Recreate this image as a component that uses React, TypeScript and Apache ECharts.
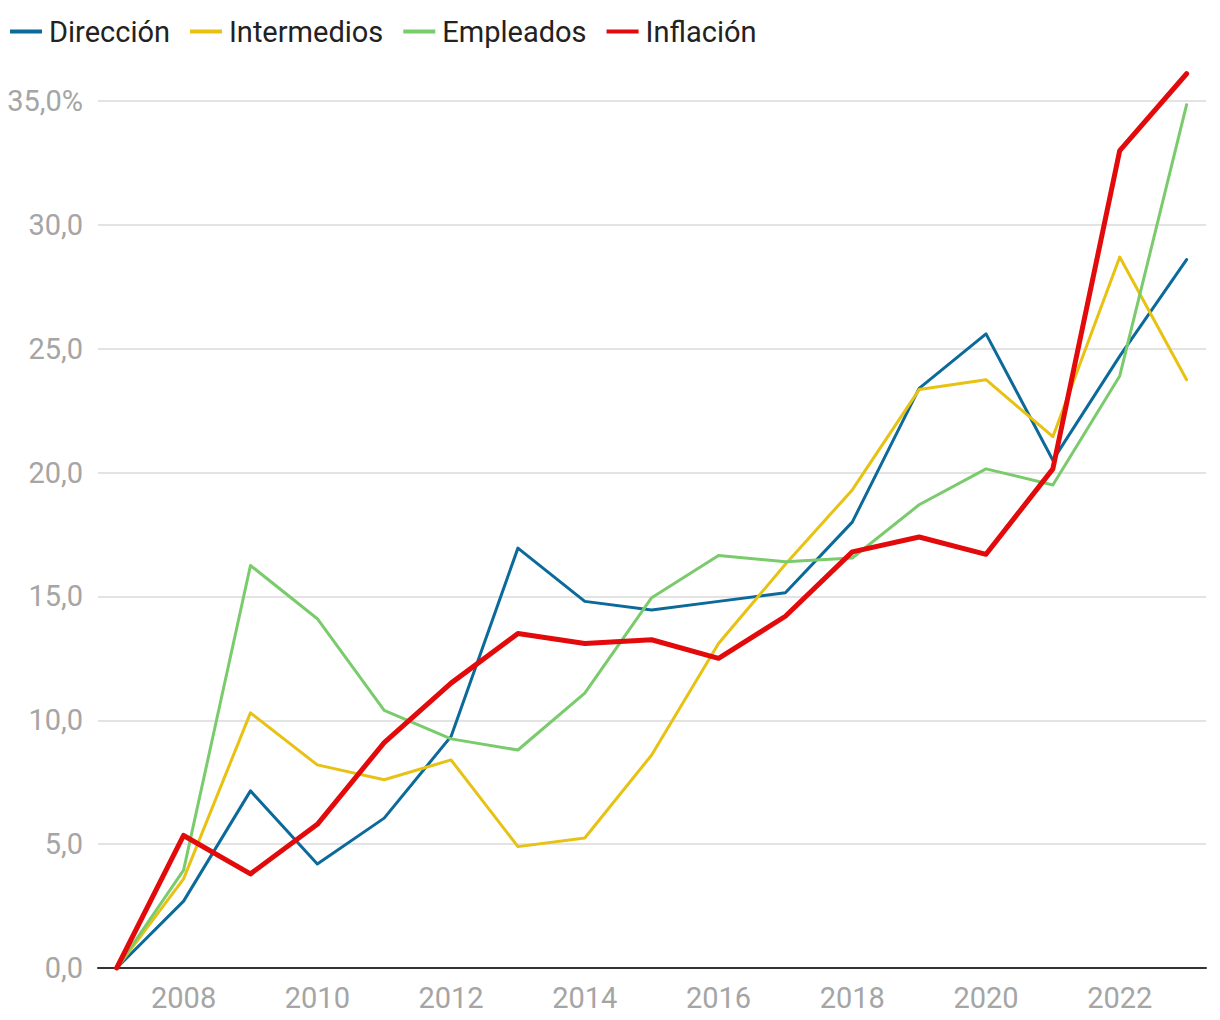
import React, { useEffect, useRef } from "react";
import * as echarts from "echarts";

const years = [2007, 2008, 2009, 2010, 2011, 2012, 2013, 2014, 2015, 2016, 2017, 2018, 2019, 2020, 2021, 2022, 2023];
const direccion = [0, 2.7, 7.15, 4.2, 6.05, 9.35, 16.95, 14.8, 14.45, 14.8, 15.15, 18.0, 23.4, 25.6, 20.5, 24.7, 28.6];
const intermedios = [0, 3.6, 10.3, 8.2, 7.6, 8.4, 4.9, 5.25, 8.6, 13.1, 16.3, 19.3, 23.35, 23.75, 21.45, 28.7, 23.75];
const empleados = [0, 3.95, 16.25, 14.1, 10.4, 9.25, 8.8, 11.1, 14.95, 16.65, 16.4, 16.55, 18.7, 20.15, 19.5, 23.9, 34.85];
const inflacion = [0, 5.35, 3.8, 5.8, 9.1, 11.5, 13.5, 13.1, 13.25, 12.5, 14.2, 16.8, 17.4, 16.7, 20.15, 33.0, 36.1];
const xTicks = [2008, 2010, 2012, 2014, 2016, 2018, 2020, 2022];
const yTicks = [0, 5, 10, 15, 20, 25, 30, 35];

const seriesDefs = [
  { name: "Dirección", data: direccion, color: "#0b6a9a", width: 3 },
  { name: "Intermedios", data: intermedios, color: "#e8c212", width: 3 },
  { name: "Empleados", data: empleados, color: "#7acb6c", width: 3 },
  { name: "Inflación", data: inflacion, color: "#e20a0a", width: 5 },
];

const FONT = "Roboto";

export default function App() {
  const ref = useRef<HTMLDivElement>(null);
  useEffect(() => {
    if (!ref.current) return;
    const chart = echarts.init(ref.current, null, { renderer: "svg" });
    chart.setOption({
      animation: false,
      backgroundColor: "#ffffff",
      textStyle: { fontFamily: FONT },
      legend: {
        left: 10,
        top: 17,
        padding: 0,
        itemWidth: 32,
        itemHeight: 4,
        itemGap: 20,
        icon: "rect",
        textStyle: { fontSize: 29, color: "#222222", fontFamily: FONT, padding: [0, 0, 0, 2] },
        data: seriesDefs.map((s) => ({ name: s.name, itemStyle: { color: s.color } })),
      },
      grid: { left: 98, right: 14, top: 101, bottom: 52, containLabel: false },
      xAxis: {
        type: "value",
        min: 2006.72,
        max: 2023.29,
        axisLine: { show: true, onZero: false, lineStyle: { color: "#333333", width: 2 } },
        axisTick: { show: false },
        splitLine: { show: false },
        axisLabel: {
          customValues: xTicks,
          formatter: (v: number) => String(v),
          fontSize: 29,
          color: "#a5a5a5",
          margin: 15,
          fontFamily: FONT,
        },
      },
      yAxis: {
        type: "value",
        min: 0,
        max: 35,
        interval: 5,
        axisLine: { show: false },
        axisTick: { show: false },
        splitLine: { show: true, lineStyle: { color: "#e3e3e3", width: 2 } },
        axisLabel: {
          fontSize: 29,
          color: "#a5a5a5",
          margin: 15,
          fontFamily: FONT,
          formatter: (v: number) => {
            const s = v.toFixed(1).replace(".", ",");
            return v === yTicks[yTicks.length - 1] ? s + "%" : s;
          },
        },
      },
      series: seriesDefs.map((s) => ({
        name: s.name,
        type: "line",
        clip: false,
        showSymbol: false,
        symbol: "none",
        data: years.map((y, i) => [y, s.data[i]]),
        lineStyle: { color: s.color, width: s.width, cap: "round", join: "round" },
        itemStyle: { color: s.color },
      })),
    });
    return () => chart.dispose();
  }, []);
  return (
    <div
      ref={ref}
      style={{ position: "absolute", left: 0, top: 0, width: 1220, height: 1020 }}
    />
  );
}
